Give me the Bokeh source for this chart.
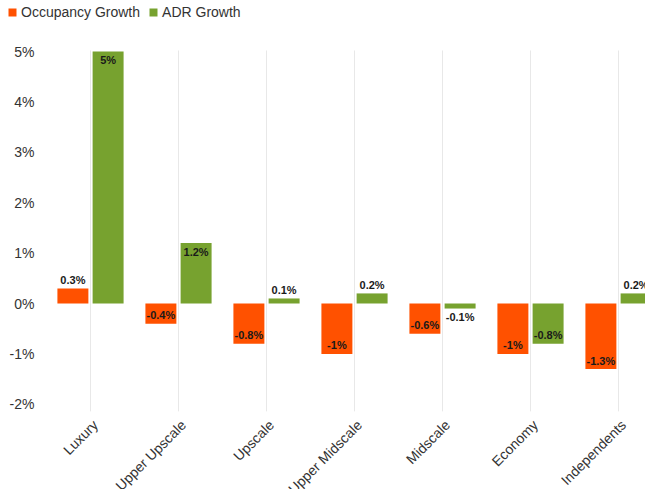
import numpy as np
from bokeh.plotting import figure
from bokeh.models import ColumnDataSource, LabelSet, Legend, LegendItem, Range1d
from bokeh.core.properties import value
from bokeh.embed import file_html
from bokeh.resources import INLINE

categories = ["Luxury", "Upper Upscale", "Upscale", "Upper Midscale",
              "Midscale", "Economy", "Independents"]
occupancy_growth = [0.3, -0.4, -0.8, -1.0, -0.6, -1.0, -1.3]
adr_growth = [5.0, 1.2, 0.1, 0.2, -0.1, -0.8, 0.2]
y_ticks = [-2, -1, 0, 1, 2, 3, 4, 5]

ORANGE = "#FF5100"
GREEN = "#77A22F"
FONT = "Liberation Sans"
W, H = 645, 489

# pixel geometry of the plotting scale
X0_PX, CAT_PX = 90, 88        # first category centre, category width
ZERO_PX, PCT_PX = 303, 50.4   # y pixel of 0 %, pixels per 1 %


def px_to_x(px):
    return (px - X0_PX) / CAT_PX


def py_to_y(py):
    return (ZERO_PX - py) / PCT_PX


idx = np.arange(len(categories))


def label_y(vals):
    shift = 8.5 / PCT_PX
    ys = []
    for v in vals:
        inside = abs(v) >= 0.35
        if v >= 0:
            ys.append(v - shift if inside else v + shift)
        else:
            ys.append(v + shift if inside else v - shift)
    return ys


def fmt(v):
    return f"{v:g}%"


occ_src = ColumnDataSource(dict(x=idx - 0.2, top=occupancy_growth,
                                ly=label_y(occupancy_growth),
                                txt=[fmt(v) for v in occupancy_growth]))
adr_src = ColumnDataSource(dict(x=idx + 0.2, top=adr_growth,
                                ly=label_y(adr_growth),
                                txt=[fmt(v) for v in adr_growth]))

p = figure(width=W, height=H,
           x_range=Range1d(px_to_x(0), px_to_x(W)),
           y_range=Range1d(py_to_y(H), py_to_y(0)),
           min_border=0, x_axis_location=None, y_axis_location=None,
           output_backend="svg", toolbar_location=None)
p.outline_line_color = None
p.xgrid.visible = False
p.ygrid.visible = False

# vertical grid lines at category centres, spanning the value range
grid_top = y_ticks[-1] + 0.02
grid_bot = y_ticks[0] - 0.14
p.segment(x0=idx, x1=idx, y0=[grid_bot] * len(idx), y1=[grid_top] * len(idx),
          line_color="#e8e8e8", line_width=1)

r1 = p.vbar(x="x", top="top", bottom=0, width=0.352, source=occ_src,
            fill_color=ORANGE, line_color=None)
r2 = p.vbar(x="x", top="top", bottom=0, width=0.352, source=adr_src,
            fill_color=GREEN, line_color=None)

for src in (occ_src, adr_src):
    p.add_layout(LabelSet(x="x", y="ly", text="txt", source=src,
                          text_align="center", text_baseline="middle",
                          text_font=value(FONT), text_font_size="11px",
                          text_font_style="bold", text_color="#1a1a1a"))

# y tick labels
ytick_src = ColumnDataSource(dict(x=[px_to_x(34)] * len(y_ticks), y=y_ticks,
                                  txt=[f"{t}%" for t in y_ticks]))
p.add_layout(LabelSet(x="x", y="y", text="txt", source=ytick_src,
                      text_align="right", text_baseline="middle",
                      text_font=value(FONT), text_font_size="14px",
                      text_color="#333333"))

# category labels, rotated 45 degrees
cat_src = ColumnDataSource(dict(x=idx, y=[py_to_y(422)] * len(idx),
                                txt=categories))
p.add_layout(LabelSet(x="x", y="y", text="txt", source=cat_src,
                      angle=np.pi / 4, text_align="right",
                      text_baseline="middle", x_offset=5,
                      text_font=value(FONT), text_font_size="14px",
                      text_color="#333333"))

legend = Legend(items=[LegendItem(label="Occupancy Growth", renderers=[r1]),
                       LegendItem(label="ADR Growth", renderers=[r2])],
                orientation="horizontal", location=(7, H - 20),
                padding=0, margin=0, spacing=8,
                glyph_width=10, glyph_height=10, label_standoff=4,
                label_height=16, label_text_font=FONT,
                label_text_font_size="14px", label_text_color="#333333",
                border_line_color=None, background_fill_alpha=0)
p.add_layout(legend)

open("out.html", "w").write(file_html(p, INLINE))
